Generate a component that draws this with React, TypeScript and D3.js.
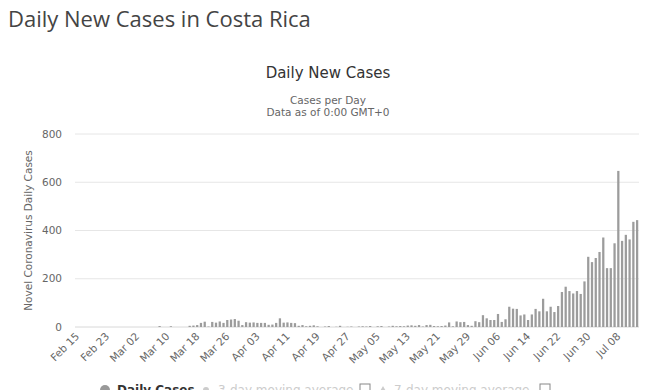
import React from "react";
import * as d3 from "d3";

const WIDTH = 660;
const HEIGHT = 390;
const PLOT = { left: 75, right: 639, top: 134, bottom: 327 };

const START_DATE = new Date(2020, 1, 15);

// daily new cases
const FEB_CASES = [0, 0, 0, 0, 0, 0, 0, 0, 0, 0, 0, 0, 0, 0, 0];
const MAR_CASES = [
  0, 0, 0, 0, 0, 0, 0, 4, 0, 0, 3, 0, 0, 0, 0, 5, 6, 8, 17, 22, 2, 21, 18, 23,
  17, 29, 31, 33, 26, 8, 20,
];
const APR_CASES = [
  18, 19, 17, 17, 17, 9, 10, 17, 36, 18, 19, 17, 16, 5, 8, 3, 5, 7, 3, 0, 2, 4,
  0, 1, 5, 0, 1, 2, 0, 2,
];
const MAY_CASES = [
  3, 2, 4, 0, 3, 4, 0, 2, 5, 3, 4, 3, 6, 7, 5, 8, 2, 8, 9, 4, 3, 4, 6, 19, 3,
  23, 20, 21, 8, 5, 24,
];
const JUN_CASES = [
  20, 49, 36, 29, 29, 54, 21, 32, 84, 76, 75, 48, 52, 29, 52, 75, 65, 117, 65,
  84, 62, 87, 145, 167, 149, 139, 149, 137, 189, 291,
];
const JUL_CASES = [269, 286, 311, 371, 244, 244, 347, 647, 357, 382, 363, 436, 443];

const DAILY_CASES = [
  ...FEB_CASES,
  ...MAR_CASES,
  ...APR_CASES,
  ...MAY_CASES,
  ...JUN_CASES,
  ...JUL_CASES,
];

const fmtDay = d3.timeFormat("%b %d");
const DAYS = DAILY_CASES.map((_, i) => fmtDay(d3.timeDay.offset(START_DATE, i)));

const TICK_LABELS = [
  "Feb 15", "Feb 23", "Mar 02", "Mar 10", "Mar 18", "Mar 26", "Apr 03",
  "Apr 11", "Apr 19", "Apr 27", "May 05", "May 13", "May 21", "May 29",
  "Jun 06", "Jun 14", "Jun 22", "Jun 30", "Jul 08",
];
const Y_TICKS = [0, 200, 400, 600, 800];

const CHART_FONT = "'DejaVu Sans', 'Lucida Grande', sans-serif";

export default function App() {
  const x = d3
    .scaleBand<string>()
    .domain(DAYS)
    .range([PLOT.left, PLOT.right])
    .paddingInner(0.4)
    .paddingOuter(0.2);
  const y = d3.scaleLinear().domain([0, 800]).range([PLOT.bottom, PLOT.top]);

  return (
    <svg
      width={WIDTH}
      height={HEIGHT}
      style={{ position: "absolute", left: 0, top: 0, background: "#fff" }}
    >
      <text
        x={8}
        y={27}
        fontFamily="'Open Sans', sans-serif"
        fontSize={22}
        fill="#444"
      >
        Daily New Cases in Costa Rica
      </text>

      <g fontFamily={CHART_FONT} textAnchor="middle">
        <text x={328} y={78} fontSize={15} fill="#333">
          Daily New Cases
        </text>
        <text x={328} y={104} fontSize={10.5} fill="#666">
          Cases per Day
        </text>
        <text x={328} y={116} fontSize={10.5} fill="#666">
          Data as of 0:00 GMT+0
        </text>
      </g>

      {/* grid + y axis */}
      <g fontFamily={CHART_FONT} fontSize={10.5} fill="#666">
        {Y_TICKS.map((t) => (
          <g key={t}>
            <line
              x1={PLOT.left}
              x2={PLOT.right}
              y1={y(t)}
              y2={y(t)}
              stroke={t === 0 ? "#d8d8d8" : "#e6e6e6"}
            />
            <text x={62} y={y(t)} dy="0.35em" textAnchor="end">
              {t}
            </text>
          </g>
        ))}
        <text
          transform={`translate(32,${(PLOT.top + PLOT.bottom) / 2}) rotate(-90)`}
          textAnchor="middle"
          fontSize={10.5}
        >
          Novel Coronavirus Daily Cases
        </text>
      </g>

      {/* bars */}
      <g fill="#9c9c9c">
        {DAILY_CASES.map((v, i) => (
          <rect
            key={DAYS[i]}
            x={x(DAYS[i])}
            y={y(v)}
            width={x.bandwidth()}
            height={PLOT.bottom - y(v)}
          />
        ))}
      </g>

      {/* x axis labels */}
      <g fontFamily={CHART_FONT} fontSize={10.5} fill="#666">
        {TICK_LABELS.map((lbl) => {
          const cx = (x(lbl) ?? 0) + x.bandwidth() / 2;
          return (
            <text
              key={lbl}
              transform={`translate(${cx + 3},${PLOT.bottom + 10}) rotate(-45)`}
              textAnchor="end"
            >
              {lbl}
            </text>
          );
        })}
      </g>

      {/* legend, cut off at the bottom */}
      <g fontFamily={CHART_FONT} fontSize={12}>
        <circle cx={105} cy={390} r={5} fill="#999" />
        <text x={117} y={394} fontWeight="bold" fill="#333">
          Daily Cases
        </text>
        <circle cx={206} cy={390} r={3} fill="#ccc" />
        <text x={218} y={394} fill="#ccc">
          3-day moving average
        </text>
        <rect x={360} y={384} width={10} height={10} fill="none" stroke="#888" />
        <path d="M383,386 L387,393 L379,393 Z" fill="#ccc" />
        <text x={394} y={394} fill="#ccc">
          7-day moving average
        </text>
        <rect x={540} y={384} width={10} height={10} fill="none" stroke="#888" />
      </g>
    </svg>
  );
}
